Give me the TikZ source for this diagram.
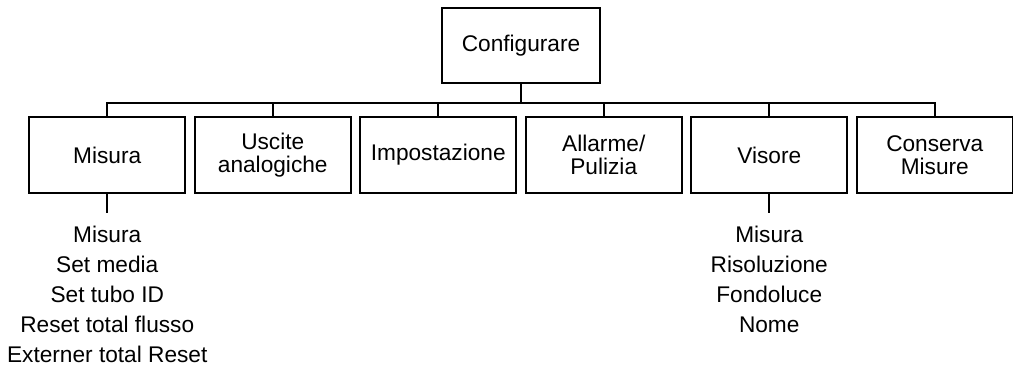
\documentclass[tikz,border=0pt]{standalone}
\usepackage{fontspec}
\setmainfont{Liberation Sans}
\usetikzlibrary{trees}
\tikzstyle{every node}=[font=\fontsize{17}{17}\selectfont,align=center]
\tikzstyle{menu}=[draw=black,line width=1.5pt,minimum width=117pt,minimum height=57pt,inner sep=2pt]
\tikzstyle{items}=[anchor=north,inner xsep=0pt,inner ysep=9pt,font=\fontsize{17}{22.5}\selectfont]

\begin{document}
\begin{tikzpicture}[x=0.75pt,y=0.75pt,line width=1.5pt,
        level 1/.style={sibling distance=124.125pt,level distance=82.125pt},
        level 2/.style={level distance=43.5pt,
            edge from parent path={(\tikzparentnode.south) -- (\tikzchildnode.north)}},
        edge from parent path={(\tikzparentnode.south) -- ++(0,-19) -| (\tikzchildnode.north)}]
    \useasboundingbox (0,0) rectangle (1013,367);
    \node[menu,minimum width=118.5pt,minimum height=56.25pt] (conf) at (521,321.5) {Configurare}
        child{node[menu] (misura){Misura}
            child{node[items] (misuralist){Misura\\Set media\\Set tubo ID\\Reset total flusso\\Externer total Reset}}
        }
        child{node[menu] (uscite){Uscite\\analogiche}}
        child{node[menu] (impost){Impostazione}}
        child{node[menu] (allarme){Allarme/\\Pulizia}}
        child{node[menu] (visore){Visore}
            child{node[items] (visorelist){Misura\\Risoluzione\\Fondoluce\\Nome}}
        }
        child{node[menu] (conserva){Conserva\\Misure}}
    ;
\end{tikzpicture}
\end{document}
